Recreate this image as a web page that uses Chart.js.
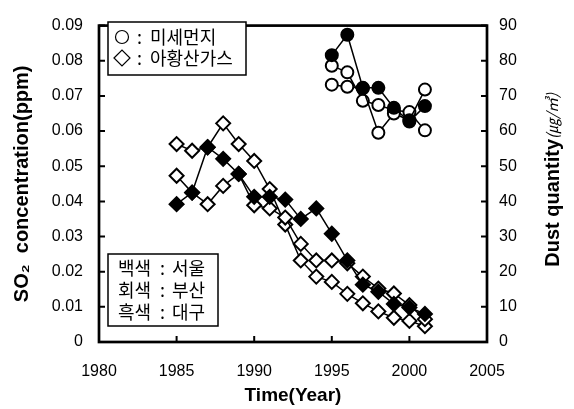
<!DOCTYPE html>
<html>
<head>
<meta charset="utf-8">
<script src="https://cdn.jsdelivr.net/npm/chart.js@4"></script>
<style>
html, body { margin: 0; padding: 0; background: #fff; }
canvas { display: block; }
</style>
</head>
<body>
<canvas id="chart" width="574" height="409"></canvas>
<script>
// SO2 (left axis, ppm) - diamonds
const so2Years = [1985, 1986, 1987, 1988, 1989, 1990, 1991, 1992, 1993, 1994, 1995, 1996, 1997, 1998, 1999, 2000, 2001];
const so2Seoul = [0.0563, 0.0544, 0.0554, 0.0622, 0.0563, 0.0515, 0.0435, 0.0334, 0.0232, 0.0186, 0.0171, 0.0137, 0.0110, 0.0087, 0.0069, 0.0060, 0.0045];
const so2Busan = [0.0473, 0.0425, 0.0392, 0.0444, 0.0478, 0.0389, 0.0380, 0.0354, 0.0279, 0.0232, 0.0232, 0.0224, 0.0186, 0.0152, 0.0138, 0.0105, 0.0065];
const so2Daegu = [0.0392, 0.0425, 0.0554, 0.0521, 0.0478, 0.0413, 0.0413, 0.0405, 0.0350, 0.0380, 0.0308, 0.0232, 0.0163, 0.0143, 0.0108, 0.0098, 0.0080];

// Dust (right axis, ug/m3) - circles
const dustYears = [1995, 1996, 1997, 1998, 1999, 2000, 2001];
const dustSeoul = [78.6, 76.7, 68.6, 67.4, 65.9, 65.4, 60.2];
const dustBusan = [73.2, 72.6, 72.2, 59.5, 65.0, 63.1, 71.8];
const dustDaegu = [81.6, 87.4, 72.3, 72.3, 66.6, 62.7, 67.1];

const xTickValues = [1980, 1985, 1990, 1995, 2000, 2005];
const so2TickValues = [0, 0.01, 0.02, 0.03, 0.04, 0.05, 0.06, 0.07, 0.08, 0.09];
const so2TickLabels = ['0', '0.01', '0.02', '0.03', '0.04', '0.05', '0.06', '0.07', '0.08', '0.09'];
const dustTickValues = [0, 10, 20, 30, 40, 50, 60, 70, 80, 90];
const dustTickLabels = ['0', '10', '20', '30', '40', '50', '60', '70', '80', '90'];

const sans = '"Liberation Sans", Arial, sans-serif';
const kr = '"Noto Sans CJK KR", sans-serif';

Chart.defaults.font.family = sans;
Chart.defaults.color = '#000';

function pts(xs, ys) {
    return xs.map((x, i) => ({ x: x, y: ys[i] }));
}

function series(label, xs, ys, axis, shape, fill, order) {
    return {
        label: label,
        data: pts(xs, ys),
        yAxisID: axis,
        order: order,
        borderColor: '#000',
        borderWidth: 1.5,
        pointStyle: shape,
        pointRadius: shape === 'circle' ? 6 : 7,
        pointBorderWidth: 2,
        pointBorderColor: '#000',
        pointBackgroundColor: fill,
        backgroundColor: fill,
        tension: 0,
        fill: false
    };
}

const framePlugin = {
    id: 'frame',
    beforeDatasetsDraw(chart) {
        const { ctx, chartArea: a, scales } = chart;
        const t = 6;
        ctx.save();
        ctx.strokeStyle = '#000';
        ctx.lineWidth = 2;
        ctx.beginPath();
        xTickValues.forEach(v => {
            const px = scales.x.getPixelForValue(v);
            ctx.moveTo(px, a.bottom); ctx.lineTo(px, a.bottom - t);
        });
        so2TickValues.forEach(v => {
            const py = scales.y.getPixelForValue(v);
            ctx.moveTo(a.left, py); ctx.lineTo(a.left + t, py);
        });
        dustTickValues.forEach(v => {
            const py = scales.y2.getPixelForValue(v);
            ctx.moveTo(a.right, py); ctx.lineTo(a.right - t, py);
        });
        ctx.stroke();
        ctx.lineWidth = 2.7;
        ctx.strokeRect(a.left, a.top, a.right - a.left, a.bottom - a.top);
        ctx.restore();
    }
};

function drawCircle(ctx, x, y, r) {
    ctx.beginPath();
    ctx.arc(x, y, r, 0, Math.PI * 2);
    ctx.fill();
    ctx.stroke();
}

function drawDiamond(ctx, x, y, r) {
    ctx.beginPath();
    ctx.moveTo(x - r, y); ctx.lineTo(x, y - r); ctx.lineTo(x + r, y); ctx.lineTo(x, y + r);
    ctx.closePath();
    ctx.fill();
    ctx.stroke();
}

const notePlugin = {
    id: 'notes',
    afterDraw(chart) {
        const { ctx, chartArea: a } = chart;
        ctx.save();
        ctx.strokeStyle = '#000';
        ctx.fillStyle = '#fff';
        ctx.lineWidth = 1.5;

        // symbol box
        let bx = a.left + 9, by = 22;
        ctx.fillRect(bx, by, 138, 53);
        ctx.strokeRect(bx, by, 138, 53);
        ctx.lineWidth = 1.2;
        drawCircle(ctx, bx + 14, by + 15, 6.5);
        drawDiamond(ctx, bx + 14, by + 36, 8);
        ctx.fillStyle = '#000';
        ctx.font = '18px ' + kr;
        ctx.textBaseline = 'middle';
        ctx.fillText(':', bx + 29, by + 15);
        ctx.fillText('미세먼지', bx + 42, by + 15);
        ctx.fillText(':', bx + 29, by + 36);
        ctx.fillText('아황산가스', bx + 42, by + 36);

        // colour box
        ctx.lineWidth = 1.5;
        ctx.fillStyle = '#fff';
        bx = a.left + 9; by = 254;
        ctx.fillRect(bx, by, 110, 72);
        ctx.strokeRect(bx, by, 110, 72);
        ctx.fillStyle = '#000';
        const rows = [['백색', '서울'], ['회색', '부산'], ['흑색', '대구']];
        rows.forEach((r, i) => {
            const ry = by + 14 + i * 22;
            ctx.fillText(r[0], bx + 10, ry);
            ctx.fillText(':', bx + 52, ry);
            ctx.fillText(r[1], bx + 64, ry);
        });

        // right axis title, reading bottom to top
        const main = 'Dust quantity';
        const unit = '(㎍/㎥)';
        ctx.font = 'bold 20px ' + sans;
        const w1 = ctx.measureText(main).width;
        ctx.font = 'italic 15px ' + kr;
        const w2 = ctx.measureText(unit).width;
        ctx.translate(553, (a.top + a.bottom) / 2 - 4);
        ctx.rotate(-Math.PI / 2);
        ctx.textAlign = 'left';
        ctx.textBaseline = 'middle';
        const x0 = -(w1 + w2) / 2;
        ctx.font = 'bold 20px ' + sans;
        ctx.fillText(main, x0, 0);
        ctx.font = 'italic 15px ' + kr;
        ctx.fillText(unit, x0 + w1, -1);
        ctx.restore();
    }
};

new Chart(document.getElementById('chart'), {
    type: 'line',
    data: {
        datasets: [
            series('대구 SO2', so2Years, so2Daegu, 'y', 'rectRot', '#000', 0),
            series('서울 SO2', so2Years, so2Seoul, 'y', 'rectRot', '#fff', 2),
            series('부산 SO2', so2Years, so2Busan, 'y', 'rectRot', '#fff', 1),
            series('대구 먼지', dustYears, dustDaegu, 'y2', 'circle', '#000', 0),
            series('서울 먼지', dustYears, dustSeoul, 'y2', 'circle', '#fff', 2),
            series('부산 먼지', dustYears, dustBusan, 'y2', 'circle', '#fff', 1)
        ]
    },
    options: {
        responsive: false,
        animation: false,
        devicePixelRatio: 1,
        layout: { padding: { top: 13, left: 0, right: 0, bottom: 0 } },
        plugins: {
            legend: { display: false },
            tooltip: { enabled: false }
        },
        scales: {
            x: {
                type: 'linear',
                min: 1980,
                max: 2005,
                afterBuildTicks: s => { s.ticks = xTickValues.map(v => ({ value: v })); },
                afterFit: s => { s.height = 67; },
                grid: { display: false, drawTicks: false },
                border: { display: false },
                ticks: {
                    padding: 20,
                    font: { size: 16 },
                    color: '#000',
                    maxRotation: 0,
                    callback: v => String(v)
                },
                title: {
                    display: true,
                    text: 'Time(Year)',
                    font: { size: 19, weight: 'bold' },
                    color: '#000',
                    padding: { top: 0, bottom: 2 }
                }
            },
            y: {
                position: 'left',
                min: 0,
                max: 0.09,
                afterBuildTicks: s => { s.ticks = so2TickValues.map(v => ({ value: v })); },
                afterFit: s => { s.width = 99; },
                grid: { display: false, drawTicks: false },
                border: { display: false },
                ticks: {
                    padding: 16,
                    font: { size: 16 },
                    color: '#000',
                    callback: (v, i) => so2TickLabels[i]
                },
                title: {
                    display: true,
                    text: 'SO₂  concentration(ppm)',
                    font: { size: 20, weight: 'bold' },
                    color: '#000',
                    padding: { top: 10, bottom: 0 }
                }
            },
            y2: {
                position: 'right',
                min: 0,
                max: 90,
                afterBuildTicks: s => { s.ticks = dustTickValues.map(v => ({ value: v })); },
                afterFit: s => { s.width = 87; },
                grid: { display: false, drawTicks: false },
                border: { display: false },
                ticks: {
                    padding: 12,
                    font: { size: 16 },
                    color: '#000',
                    callback: (v, i) => dustTickLabels[i]
                },
                title: { display: false }
            }
        }
    },
    plugins: [framePlugin, notePlugin]
});
</script>
</body>
</html>
